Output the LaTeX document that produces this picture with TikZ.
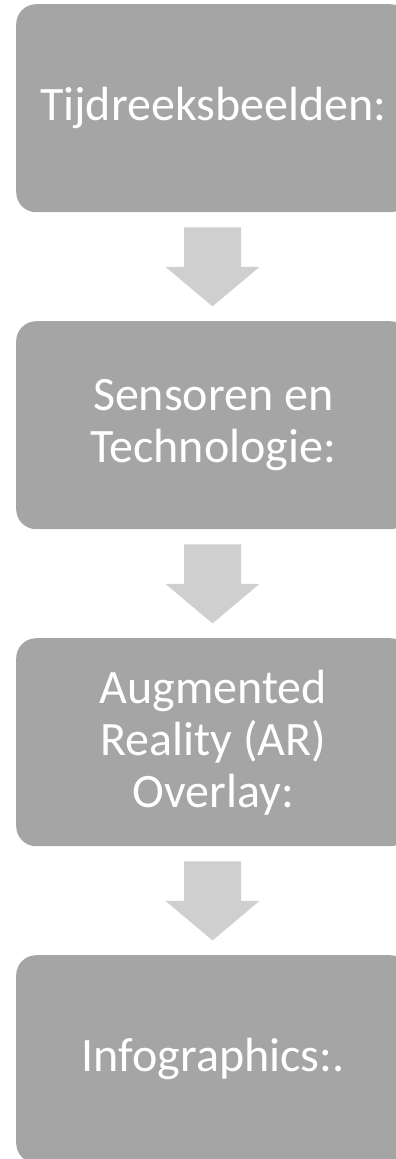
\documentclass[tikz,border=0pt]{standalone}
\usepackage{fontspec}
\setmainfont{Carlito}
\definecolor{boxgray}{HTML}{A5A5A5}
\definecolor{arrowgray}{HTML}{CFCFCF}
\tikzset{
  stepbox/.style={fill=boxgray, draw=none, rounded corners=20pt, minimum width=394pt, minimum height=208pt, inner sep=0pt,
    text=white, align=center, font=\fontsize{48}{52}\selectfont, anchor=north west},
  flowarrow/.style={fill=arrowgray, draw=none}
}
\begin{document}
\begin{tikzpicture}[x=1pt,y=-1pt]
\useasboundingbox (0,0) rectangle (396,1159);
\clip (0,0) rectangle (396,1159);
\node[stepbox] (b1) at (16,4) {Tijdreeksbeelden:};
\node[stepbox] (b2) at (16,321) {Sensoren en\\Technologie:};
\node[stepbox] (b3) at (16,638) {Augmented\\Reality (AR)\\Overlay:};
\node[stepbox] (b4) at (16,955) {Infographics:.};
\foreach \a/\b in {b1/b2,b2/b3,b3/b4}{
  \coordinate (s) at ([yshift=-15pt]\a.south -| 212.5,0);
  \fill[flowarrow] ([xshift=-28.5pt]s) -- ([xshift=28.5pt]s)
    -- ++(0,-39.5pt) -- ++(18.5pt,0) -- ([yshift=-79pt]s)
    -- ([xshift=-47pt,yshift=-39.5pt]s) -- ++(18.5pt,0) -- cycle;
}
\end{tikzpicture}
\end{document}
